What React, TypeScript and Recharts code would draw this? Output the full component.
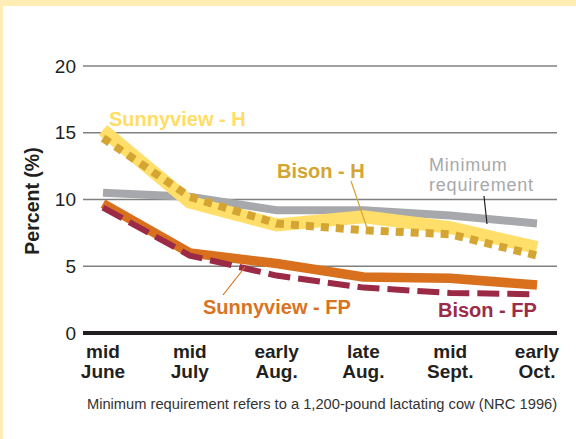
import React from 'react';
import { LineChart, Line, XAxis, YAxis, CartesianGrid, ReferenceLine } from 'recharts';

const periodTop = ['mid', 'mid', 'early', 'late', 'mid', 'early'];
const periodBottom = ['June', 'July', 'Aug.', 'Aug.', 'Sept.', 'Oct.'];
const sunnyviewH = [15.2, 9.8, 8.1, 8.7, 7.9, 6.4];
const bisonH = [14.6, 10.2, 8.2, 7.7, 7.4, 5.8];
const minRequirement = [10.5, 10.2, 9.2, 9.2, 8.8, 8.2];
const sunnyviewFP = [9.7, 6.0, 5.2, 4.2, 4.1, 3.6];
const bisonFP = [9.4, 5.8, 4.3, 3.4, 3.0, 2.9];
const yTicks = [0, 5, 10, 15, 20];

const data = periodTop.map((_, i) => ({
  idx: i,
  sunnyviewH: sunnyviewH[i],
  bisonH: bisonH[i],
  minReq: minRequirement[i],
  sunnyviewFP: sunnyviewFP[i],
  bisonFP: bisonFP[i],
}));

const FONT = '"Liberation Sans", Arial, Helvetica, sans-serif';

const XTick = (props: any) => {
  const { x, y, payload } = props;
  const i = payload.value as number;
  return (
    <text x={x} y={y} textAnchor="middle" fontFamily={FONT} fontWeight="bold" fontSize={19} fill="#231f20">
      <tspan x={x} dy={25}>{periodTop[i]}</tspan>
      <tspan x={x} dy={20}>{periodBottom[i]}</tspan>
    </text>
  );
};

export default function App() {
  return (
    <div style={{ position: 'absolute', left: 0, top: 0, width: 576, height: 439, background: '#FFEDB5', overflow: 'hidden' }}>
      <div style={{ position: 'absolute', left: 3, top: 6, right: 0, bottom: 0, background: '#ffffff' }} />
      <div style={{ position: 'absolute', left: 0, top: 0 }}>
        <LineChart width={576} height={439} data={data} margin={{ top: 66, right: 19, bottom: 46, left: 53 }}>
          <CartesianGrid vertical={false} stroke="#808080" strokeWidth={1.5} />
          <XAxis
            dataKey="idx"
            type="number"
            domain={[0, 5]}
            ticks={[0, 1, 2, 3, 4, 5]}
            padding={{ left: 20, right: 20 }}
            axisLine={false}
            tickLine={false}
            tickSize={0}
            tickMargin={0}
            height={60}
            tick={<XTick />}
            interval={0}
          />
          <YAxis
            domain={[0, 20]}
            ticks={yTicks}
            width={30}
            axisLine={false}
            tickLine={false}
            tickSize={0}
            tickMargin={7}
            tick={{ fontFamily: FONT, fontSize: 19, fill: '#231f20' }}
          />
          <ReferenceLine y={0} stroke="#231f20" strokeWidth={4} />
          <Line dataKey="minReq" stroke="#A7A8AB" strokeWidth={8} dot={false} isAnimationActive={false} />
          <Line dataKey="sunnyviewH" stroke="#FFDF6A" strokeWidth={13} dot={false} isAnimationActive={false} />
          <Line dataKey="bisonH" stroke="#D4A532" strokeWidth={8} strokeDasharray="8 7" dot={false} isAnimationActive={false} />
          <Line dataKey="sunnyviewFP" stroke="#D8701D" strokeWidth={9.5} dot={false} isAnimationActive={false} />
          <Line dataKey="bisonFP" stroke="#9A2A46" strokeWidth={6} strokeDasharray="22 8" dot={false} isAnimationActive={false} />
        </LineChart>
      </div>
      <svg width={576} height={439} style={{ position: 'absolute', left: 0, top: 0, pointerEvents: 'none' }}>
        <g fontFamily={FONT}>
          <text transform="translate(39,201) rotate(-90)" textAnchor="middle" fontWeight="bold" fontSize={19.5} fill="#231f20">Percent (%)</text>
          <text x={109} y={126} fontWeight="bold" fontSize={20} fill="#FFDD66">Sunnyview - H</text>
          <text x={277} y={178} fontWeight="bold" fontSize={20} fill="#D4A532">Bison - H</text>
          <line x1={351} y1={181} x2={367} y2={228} stroke="#D4A532" strokeWidth={1.2} />
          <text x={429} y={171} fontSize={18} letterSpacing={0.8} fill="#A7A9AC">
            <tspan x={429}>Minimum</tspan>
            <tspan x={429} dy={20}>requirement</tspan>
          </text>
          <line x1={484} y1={196} x2={487} y2={224} stroke="#231f20" strokeWidth={1.2} />
          <text x={203} y={314} fontWeight="bold" fontSize={20} fill="#D9731F">Sunnyview - FP</text>
          <line x1={223} y1={295} x2={245} y2={267} stroke="#D9731F" strokeWidth={1.2} />
          <text x={438} y={317} fontWeight="bold" fontSize={20} fill="#9B2B47">Bison - FP</text>
          <text x={322} y={409} textAnchor="middle" fontSize={14.7} fill="#333333">Minimum requirement refers to a 1,200-pound lactating cow (NRC 1996)</text>
        </g>
      </svg>
    </div>
  );
}
